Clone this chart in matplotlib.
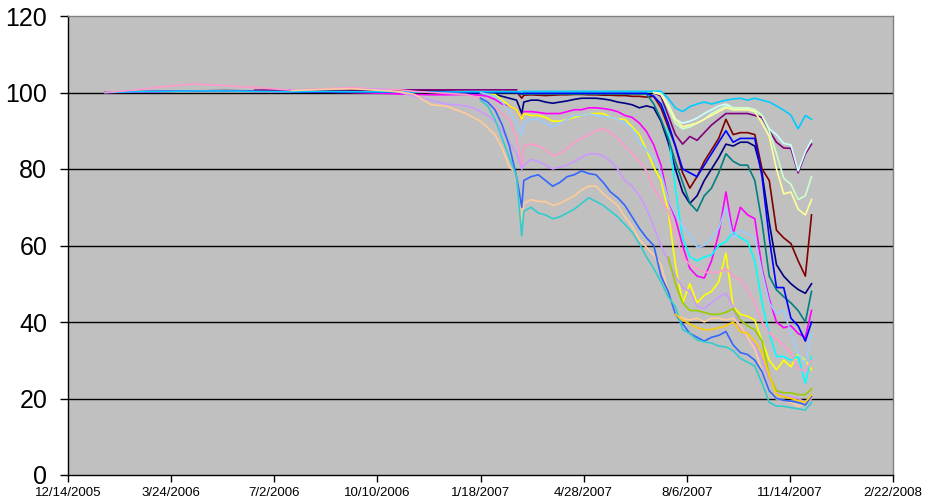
import matplotlib
matplotlib.use("Agg")
import matplotlib.pyplot as plt
from datetime import datetime

nan = float('nan')

# ---- shared observation dates ----
dates = [
    "2006-01-19", "2006-02-15", "2006-03-15", "2006-04-15", "2006-05-15", "2006-06-13", "2006-07-19",
    "2006-08-15", "2006-09-15", "2006-10-15", "2006-11-01", "2006-11-15", "2006-12-01", "2006-12-15",
    "2007-01-04", "2007-01-11", "2007-01-18", "2007-01-25", "2007-02-01", "2007-02-08", "2007-02-15",
    "2007-02-22", "2007-02-27",
    "2007-03-01", "2007-03-08", "2007-03-15", "2007-03-22", "2007-03-29", "2007-04-05", "2007-04-12",
    "2007-04-19", "2007-04-26", "2007-05-03", "2007-05-10", "2007-05-17", "2007-05-24", "2007-05-31",
    "2007-06-07", "2007-06-14", "2007-06-21", "2007-06-28", "2007-07-05", "2007-07-12",
    "2007-07-19", "2007-07-26", "2007-08-02", "2007-08-09", "2007-08-16", "2007-08-23", "2007-08-30",
    "2007-09-06", "2007-09-13", "2007-09-20", "2007-09-27", "2007-10-04", "2007-10-11", "2007-10-18",
    "2007-10-25", "2007-11-01", "2007-11-08", "2007-11-15", "2007-11-22", "2007-11-29", "2007-12-05",
]

tick_labels = ["12/14/2005", "3/24/2006", "7/2/2006", "10/10/2006", "1/18/2007",
               "4/28/2007", "8/6/2007", "11/14/2007", "2/22/2008"]
y_ticks = [0, 20, 40, 60, 80, 100, 120]

N14 = [nan] * 14
N9 = [nan] * 9
N18 = [nan] * 18

navy = ([100.0, 100.2, 100.3, 100.4, 100.5, 100.4, 100.4, 100.5, 100.5, 100.5, 100.5, 100.5, 100.4, 100.3]
        + [100.0, 100.0, 100.0, 99.9, 99.5, 99.0, 98.5, 98.0, 94.5]
        + [97.5, 98.0, 98.0, 97.5, 97.2, 97.5, 97.8, 98.2, 98.5, 98.5, 98.5, 98.3, 98.0, 97.5, 97.2, 96.8, 96.0, 96.5, 96.0, 92.5]
        + [87.0, 80.0, 74.0, 71.0, 73.0, 77.0, 80.0, 83.0, 86.5, 86.0, 87.0, 87.0, 86.0, 79.0, 66.0, 55.0, 52.0, 50.0, 48.5, 47.5, 50.0])
magenta = ([100.0, 100.1, 100.3, 100.4, 100.4, 100.3, 100.2, 100.1, 100.0, 99.8, 99.6, 99.5, 99.4, 99.4]
           + [99.5, 99.4, 99.3, 99.0, 98.2, 97.0, 96.5, 95.5, 93.0]
           + [95.0, 95.0, 94.8, 94.5, 94.5, 94.5, 95.0, 95.5, 95.5, 96.0, 96.0, 95.8, 95.5, 95.0, 94.0, 93.5, 92.0, 89.8, 86.3, 81.0]
           + [72.0, 67.0, 60.0, 54.0, 52.0, 51.5, 56.0, 63.0, 74.0, 63.0, 70.0, 68.0, 67.0, 54.0, 46.0, 40.0, 38.5, 39.0, 37.0, 36.0, 43.0])
yellow = (N14
          + [nan, nan, 100.0, 99.8, 99.5, 98.0, 96.5, 95.5, 93.0]
          + [94.5, 94.0, 94.0, 93.5, 92.5, 92.5, 93.0, 93.5, 94.0, 94.5, 94.5, 94.5, 93.5, 93.0, 93.0, 91.0, 89.0, 85.0, 80.5, 77.0]
          + [69.0, 55.0, 45.0, 50.0, 45.0, 47.0, 48.0, 50.5, 58.0, 44.0, 42.0, 41.5, 40.5, 35.0, 30.0, 27.5, 30.0, 28.3, 31.5, 30.0, 27.5])
cyan = (N14
        + [nan, nan, 100.2, 100.2, 100.2, 100.2, 100.2, 100.2, 100.2]
        + [100.2] * 20
        + [90.0, 75.0, 62.0, 57.0, 56.0, 57.0, 57.5, 60.0, 61.0, 63.5, 62.0, 61.0, 56.0, 45.0, 37.0, 31.0, 31.0, 30.0, 31.0, 24.0, 31.0])
purple = ([nan, nan, nan, nan, nan, 100.6, 100.7, 100.7, 100.7, 100.7, 100.7, 100.7, 100.7, 100.7]
          + [100.7] * 8 + [nan]
          + N18 + [100.0, 99.0]
          + [94.0, 89.0, 86.5, 88.5, 87.5, 89.5, 91.5, 93.0, 94.5, 94.5, 94.5, 94.5, 94.0, 93.5, 90.0, 87.0, 85.5, 85.4, 79.0, 84.0, 86.5])
maroon = ([nan] * 6 + [100.3] * 8
          + [100.2] * 8 + [98.5]
          + [99.3, 99.4, 99.3, 99.2, 99.3, 99.4, 99.4, 99.5, 99.5, 99.4, 99.4, 99.3, 99.3, 99.2, 99.2, 99.0, 99.0, 98.8, 99.0, 96.0]
          + [91.0, 86.0, 79.0, 75.0, 78.0, 82.0, 85.0, 88.0, 93.0, 89.0, 89.5, 89.5, 89.0, 80.0, 77.0, 64.0, 62.0, 60.5, 56.0, 52.0, 68.0])
teal = ([nan] * 6 + [100.2] * 8
        + [100.0] * 8 + [99.5]
        + [99.6] * 18 + [97.0, 93.0]
        + [88.0, 82.0, 76.5, 71.0, 69.0, 73.0, 75.0, 79.0, 84.0, 82.0, 81.0, 81.0, 77.0, 66.0, 52.0, 48.4, 46.6, 45.0, 43.0, 40.0, 48.0])
blue = ([nan] * 6 + [100.2] * 8
        + [100.0] * 8 + [99.7]
        + [99.8] * 18 + [99.0, 97.0]
        + [92.0, 86.0, 80.0, 79.0, 78.0, 81.0, 84.0, 87.0, 90.0, 87.0, 88.0, 88.0, 88.0, 78.0, 62.0, 49.0, 49.0, 41.0, 39.0, 35.0, 40.0])
sky_blue = ([100.0, 100.2, 100.3, 100.4, 100.4, 100.3, 100.2, 100.3, 100.2, 100.2, 100.2, 100.1, 100.1, 100.1]
            + [100.2] * 9
            + [100.3] * 20
            + [98.5, 96.0, 95.0, 96.3, 97.0, 97.5, 97.0, 97.5, 98.0, 98.3, 98.5, 98.0, 98.5, 98.0, 97.5, 96.5, 95.4, 94.1, 90.5, 94.0, 93.0])
light_turquoise = (N14 + N9 + N18 + [100.0, 99.8]
                   + [97.0, 93.0, 92.0, 92.5, 93.3, 94.5, 95.5, 96.5, 97.0, 96.0, 96.0, 96.0, 95.5, 94.0, 90.5, 89.0, 86.7, 86.3, 79.5, 84.5, 87.5])
light_green = (N14 + N9 + N18 + [100.0, 99.5]
               + [96.0, 92.0, 90.5, 91.0, 92.0, 93.0, 94.5, 95.5, 96.5, 96.0, 96.0, 96.0, 95.5, 94.0, 90.0, 84.0, 77.6, 76.0, 72.0, 73.0, 78.0])
light_yellow = (N14 + N9 + N18 + [100.0, 99.5]
                + [96.5, 93.0, 91.0, 91.5, 92.0, 93.0, 94.0, 95.0, 96.0, 95.5, 95.5, 95.5, 95.0, 92.0, 88.5, 80.0, 73.5, 74.0, 69.5, 68.0, 72.0])
pale_blue = (N14
             + [nan, nan, 100.0, 99.5, 99.0, 97.5, 95.0, 92.0, 89.0]
             + [92.0, 93.0, 93.0, 92.0, 91.0, 92.0, 93.0, 94.0, 94.0, 94.5, 94.0, 93.8, 93.5, 93.0, 92.0, 90.5, 87.0, 85.0, 83.0, 79.0]
             + [72.0, 68.0, 65.0, 63.0, 59.5, 60.0, 62.0, 64.5, 70.0, 62.0, 64.0, 63.0, 62.0, 53.0, 45.0, 42.2, 43.0, 37.0, 32.0, 29.0, 37.0])
rose = ([100.0, 100.6, 101.5, 102.2, 101.8, 101.3, 100.6, 100.9, 101.3, 100.8, 100.7, 100.3, 100.0, 99.8]
        + [99.5, 99.0, 98.5, 97.5, 96.0, 94.5, 93.0, 88.0, 80.0]
        + [86.0, 86.5, 86.0, 85.0, 83.5, 84.0, 85.5, 87.0, 88.0, 89.0, 90.0, 90.5, 89.5, 88.0, 86.0, 84.0, 82.0, 79.5, 75.0, 72.0]
        + [69.0, 63.0, 57.0, 55.0, 54.0, 53.0, 53.0, 53.0, 54.0, 52.0, 51.0, 48.5, 45.0, 40.0, 37.0, 35.5, 34.0, 31.8, 28.0, 27.0, 30.0])
lavender = ([nan] * 6 + [100.6, 100.8, 101.0, 100.8, 100.0, 99.0, 98.0, 97.0]
            + [96.5, 96.0, 95.0, 94.0, 92.5, 90.0, 87.0, 84.0, 80.0]
            + [81.0, 82.5, 82.0, 81.0, 80.0, 80.5, 81.0, 82.0, 83.0, 84.0, 84.0, 83.5, 82.0, 80.0, 77.0, 75.5, 73.0, 69.5, 65.0, 60.0]
            + [56.0, 52.0, 49.0, 48.0, 44.0, 43.5, 45.0, 46.5, 47.5, 44.0, 38.0, 36.0, 34.0, 30.0, 25.0, 22.0, 20.5, 20.5, 20.0, 19.0, 21.0])
tan = ([nan] * 6 + [100.5, 100.8, 101.0, 100.5, 100.2, 99.5, 96.8, 96.5]
       + [94.5, 93.5, 92.5, 90.8, 89.0, 85.5, 80.5, 79.0, 66.0]
       + [71.0, 72.0, 71.5, 71.5, 70.5, 71.0, 72.0, 73.0, 74.5, 75.5, 75.5, 73.5, 72.0, 70.5, 67.5, 65.0, 61.5, 59.5, 57.5, 55.0]
       + [48.0, 42.0, 41.0, 40.5, 41.0, 40.0, 41.0, 41.0, 40.5, 41.0, 39.0, 36.0, 33.0, 27.0, 22.0, 19.8, 19.5, 19.0, 18.0, 18.5, 20.0])
light_blue = (N14
              + [nan, nan, 98.5, 97.5, 95.5, 91.5, 86.0, 78.0, 70.0]
              + [77.0, 78.0, 78.5, 77.0, 75.5, 76.5, 78.0, 78.5, 79.5, 78.8, 78.5, 76.5, 74.0, 72.5, 70.5, 67.5, 64.5, 62.0, 60.0, 52.0]
              + [48.0, 42.0, 39.5, 37.0, 36.0, 35.0, 36.0, 36.5, 37.5, 34.0, 32.0, 31.5, 30.0, 27.0, 22.0, 20.0, 19.5, 19.3, 19.0, 18.3, 20.5])
aqua = (N14
        + [nan, nan, 98.0, 96.5, 93.0, 88.0, 83.0, 78.0, 62.5]
        + [69.0, 70.0, 68.5, 68.0, 67.0, 67.5, 68.5, 69.5, 71.0, 72.5, 71.5, 70.5, 69.0, 67.5, 65.5, 63.5, 60.5, 57.0, 54.0, 50.5]
        + [46.6, 44.0, 38.0, 37.0, 35.3, 34.8, 34.5, 33.7, 33.5, 32.5, 30.5, 29.5, 28.5, 24.0, 19.0, 18.0, 18.0, 17.6, 17.3, 17.0, 19.0])
lime = (N14 + N9 + [nan] * 20
        + [57.0, 50.0, 45.0, 43.0, 43.0, 42.5, 42.0, 42.0, 42.5, 43.5, 40.5, 39.0, 38.0, 35.0, 26.0, 22.0, 21.5, 21.5, 21.0, 21.0, 22.5])
gold = (N14 + N9 + [nan] * 20
        + [nan, 42.0, 40.5, 39.5, 38.5, 38.0, 38.0, 38.5, 39.0, 40.0, 37.5, 37.0, 35.0, 32.0, 26.0, 21.0, 20.5, 20.0, 19.5, 19.0, 21.0])

series = [navy, magenta, yellow, cyan, purple, maroon, teal, blue, sky_blue, light_turquoise,
          light_green, light_yellow, pale_blue, rose, lavender, tan, light_blue, aqua, lime, gold]
colors = ["#000080", "#FF00FF", "#FFFF00", "#00FFFF", "#800080", "#800000", "#008080", "#0000FF",
          "#00CCFF", "#CCFFFF", "#CCFFCC", "#FFFF99", "#99CCFF", "#FF99CC", "#CC99FF", "#FFCC99",
          "#3366FF", "#33CCCC", "#99CC00", "#FFCC00"]

for s in series:
    if len(s) != len(dates):
        print("length mismatch", len(s))

x = [datetime.strptime(d, "%Y-%m-%d") for d in dates]
tick_dates = [datetime.strptime(t, "%m/%d/%Y") for t in tick_labels]

plt.rcParams['font.family'] = ['Liberation Sans', 'DejaVu Sans']

fig = plt.figure(figsize=(9.26, 5.03), dpi=100)
ax = fig.add_axes([68 / 926, 1 - 475 / 503, (893 - 68) / 926, (475 - 16) / 503])
ax.set_facecolor("#C0C0C0")

for yv in y_ticks[1:-1]:
    ax.axhline(yv, color="black", lw=1.0, zorder=1)

for s, c in zip(series, colors):
    ax.plot(x, s, color=c, lw=1.2, zorder=2)

ax.set_xlim(tick_dates[0], tick_dates[-1])
ax.set_ylim(0, 120)
ax.set_xticks(tick_dates)
ax.set_xticklabels(tick_labels, fontsize=9.5)
ax.set_yticks(y_ticks)
ax.set_yticklabels([str(v) for v in y_ticks], fontsize=18)
ax.tick_params(axis='y', direction='out', length=6, width=1, pad=9, colors='black')
ax.tick_params(axis='x', direction='out', length=5, width=1, pad=3.5, colors='black')

ax.spines['left'].set_color('black')
ax.spines['bottom'].set_color('black')
ax.spines['top'].set_color('#808080')
ax.spines['right'].set_color('#808080')
for sp in ax.spines.values():
    sp.set_linewidth(1.0)

fig.savefig("out.png", dpi=100, facecolor="white")
